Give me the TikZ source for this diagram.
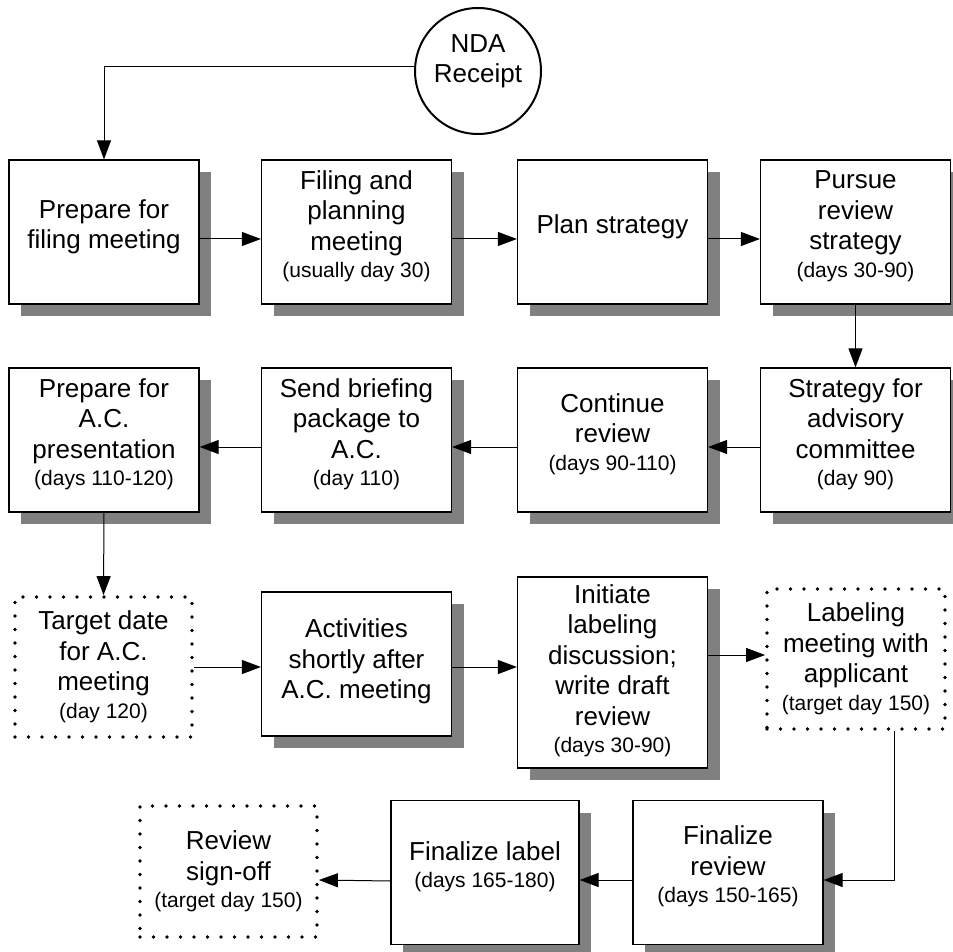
\documentclass[tikz,border=0pt]{standalone}
\usepackage{fontspec}
\setmainfont{Liberation Sans}
\usetikzlibrary{arrows.meta,shadows}
\newcommand\daynote[1]{{\fontsize{10.5}{12}\selectfont #1}}
\begin{document}
\begin{tikzpicture}[x=0.5pt, y=-0.5pt, font=\fontsize{13}{15.25}\selectfont,
  stepbox/.style={draw, line width=0.6pt, fill=white, align=center,
    minimum width=95pt, minimum height=72pt, inner sep=2pt, text depth=8pt,
    drop shadow={shadow xshift=6pt, shadow yshift=-6pt, fill=black!50, opacity=1}},
  datebox/.style={draw, line width=1.9pt, dash pattern=on 0pt off 6.75pt,
    line cap=round, align=center, minimum width=88.5pt, minimum height=70pt, inner sep=2pt},
  flow/.style={line width=0.5pt, -{Triangle[length=9.5pt,width=7pt]}}]
\useasboundingbox (0,0) rectangle (953,952);
%start
\node[draw, circle, line width=1pt, minimum size=63pt, inner sep=0pt, align=center, text depth=12.5pt] (nda) at (478,71) {NDA\\Receipt};
%row 1
\node[stepbox] (p1) at (104,232) {Prepare for\\filing meeting};
\node[stepbox] (p2) at (356.5,232) {Filing and\\planning\\meeting\\[-1.5pt]\daynote{(usually day 30)}};
\node[stepbox] (p3) at (612.5,232) {Plan strategy};
\node[stepbox] (p4) at (855.5,232) {Pursue\\review\\strategy\\[-1.5pt]\daynote{(days 30-90)}};
%row 2
\node[stepbox] (s1) at (855.5,440) {Strategy for\\advisory\\committee\\[-1.5pt]\daynote{(day 90)}};
\node[stepbox] (s2) at (612.5,440) {Continue\\review\\[-1.5pt]\daynote{(days 90-110)}};
\node[stepbox] (s3) at (356.5,440) {Send briefing\\package to\\A.C.\\[-1.5pt]\daynote{(day 110)}};
\node[stepbox] (s4) at (104,440) {Prepare for\\A.C.\\presentation\\[-1.5pt]\daynote{(days 110-120)}};
%row 3
\node[datebox] (target) at (103.5,667) {Target date\\for A.C.\\meeting\\[-1.5pt]\daynote{(day 120)}};
\node[stepbox, text depth=5pt] (act) at (356.5,664) {Activities\\shortly after\\A.C. meeting};
\node[stepbox, minimum height=95.5pt, text depth=4pt] (init) at (612.5,672.5) {Initiate\\labeling\\discussion;\\write draft\\review\\[-1.5pt]\daynote{(days 30-90)}};
\node[datebox, minimum width=89pt] (labmeet) at (856,659) {Labeling\\meeting with\\applicant\\[-1.5pt]\daynote{(target day 150)}};
%row 4
\node[stepbox] (finrev) at (728,872.5) {Finalize\\review\\[-1.5pt]\daynote{(days 150-165)}};
\node[stepbox, minimum width=94pt] (finlab) at (485,872.5) {Finalize label\\[-1.5pt]\daynote{(days 165-180)}};
\node[datebox, minimum height=65.5pt] (signoff) at (228.5,871.5) {Review\\sign-off\\[-1.5pt]\daynote{(target day 150)}};
%arrows
\draw[flow] ([yshift=2pt]nda.west) -| (p1.north);
\draw[flow] ([yshift=-3.5pt]p1.east) -- ([yshift=-3.5pt]p2.west);
\draw[flow] ([yshift=-3.5pt]p2.east) -- ([yshift=-3.5pt]p3.west);
\draw[flow] ([yshift=-3.5pt]p3.east) -- ([yshift=-3.5pt]p4.west);
\draw[flow] (p4.south) -- (s1.north);
\draw[flow] ([yshift=-3.5pt]s1.west) -- ([yshift=-3.5pt]s2.east);
\draw[flow] ([yshift=-3.5pt]s2.west) -- ([yshift=-3.5pt]s3.east);
\draw[flow] ([yshift=-3.5pt]s3.west) -- ([yshift=-3.5pt]s4.east);
\draw[flow] (s4.south) -- (target.north);
\draw[flow] (target.east) -- (target.east -| act.west);
\draw[flow] (act.east |- target.east) -- (init.west |- target.east);
\draw[flow] ([yshift=2pt]init.east |- labmeet.west) -- ([yshift=2pt]labmeet.west);
\draw[flow] ([xshift=19pt]labmeet.south) |- ([yshift=-3.75pt]finrev.east);
\draw[flow] ([yshift=-3.75pt]finrev.west) -- ([yshift=-3.75pt]finlab.east);
\draw[flow] ([yshift=-4.25pt]finlab.west) -- ([yshift=-4.25pt]signoff.east);
\end{tikzpicture}
\end{document}
